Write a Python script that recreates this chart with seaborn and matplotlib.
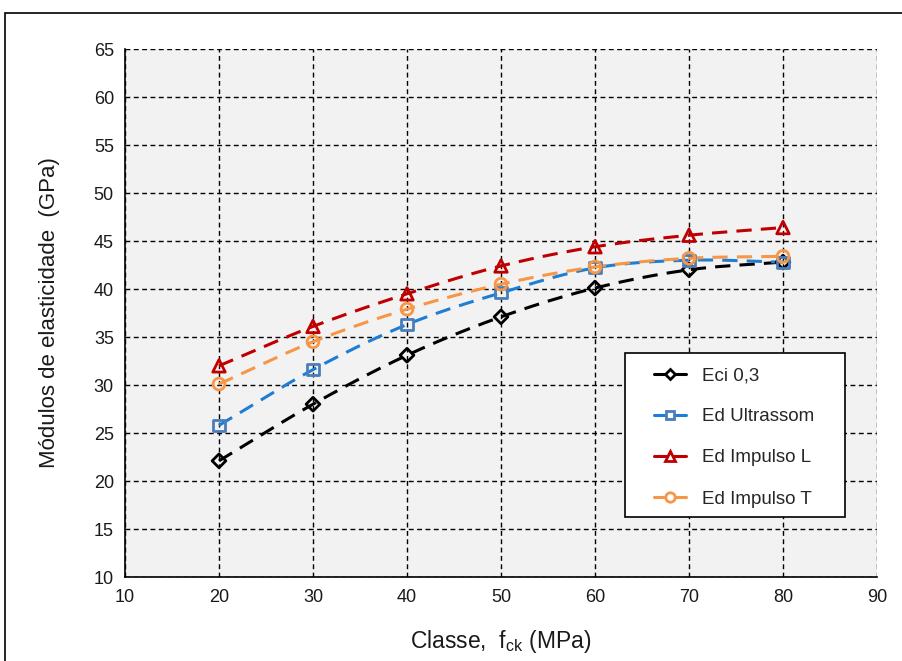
import numpy as np
import pandas as pd
import matplotlib
matplotlib.use("Agg")
import matplotlib.pyplot as plt
import seaborn as sns
from matplotlib.patches import Rectangle
from matplotlib.lines import Line2D

# Concrete class (fck, MPa)
classes = [20, 30, 40, 50, 60, 70, 80]

# Elastic moduli (GPa)
eci_03 = [22.1, 28.0, 33.1, 37.1, 40.1, 42.0, 42.8]
ed_ultrassom = [25.8, 31.6, 36.3, 39.6, 42.2, 43.0, 42.8]
ed_impulso_l = [32.0, 36.1, 39.5, 42.4, 44.4, 45.6, 46.4]
ed_impulso_t = [30.1, 34.5, 37.9, 40.5, 42.3, 43.2, 43.4]

series_names = ["Eci 0,3", "Ed Ultrassom", "Ed Impulso L", "Ed Impulso T"]
series_values = [eci_03, ed_ultrassom, ed_impulso_l, ed_impulso_t]

x_ticks = [10, 20, 30, 40, 50, 60, 70, 80, 90]
y_ticks = [10, 15, 20, 25, 30, 35, 40, 45, 50, 55, 60, 65]

styles = {
    "Eci 0,3": dict(line="#000000", edge="#000000", marker="D", ms=7),
    "Ed Ultrassom": dict(line="#1F7ED3", edge="#4A7EBB", marker="s", ms=8),
    "Ed Impulso L": dict(line="#C00000", edge="#C00000", marker="^", ms=9),
    "Ed Impulso T": dict(line="#F79646", edge="#F79646", marker="o", ms=8.5),
}


def smooth_curve(xs, ys, n=24):
    """Catmull-Rom style smoothing between consecutive points."""
    xs = np.asarray(xs, float)
    ys = np.asarray(ys, float)
    px = np.concatenate([[2 * xs[0] - xs[1]], xs, [2 * xs[-1] - xs[-2]]])
    py = np.concatenate([[2 * ys[0] - ys[1]], ys, [2 * ys[-1] - ys[-2]]])
    out_x, out_y = [], []
    t = np.linspace(0, 1, n, endpoint=False)
    for i in range(1, len(px) - 2):
        for arr, res in ((px, out_x), (py, out_y)):
            p0, p1, p2, p3 = arr[i - 1], arr[i], arr[i + 1], arr[i + 2]
            res.extend(0.5 * ((2 * p1) + (-p0 + p2) * t
                              + (2 * p0 - 5 * p1 + 4 * p2 - p3) * t ** 2
                              + (-p0 + 3 * p1 - 3 * p2 + p3) * t ** 3))
    out_x.append(xs[-1])
    out_y.append(ys[-1])
    return np.array(out_x), np.array(out_y)


sns.set_theme(style="white")
plt.rcParams["font.family"] = ["Liberation Sans", "DejaVu Sans"]
plt.rcParams["mathtext.fontset"] = "custom"
plt.rcParams["mathtext.rm"] = "Liberation Sans"
plt.rcParams["mathtext.it"] = "Liberation Sans"

W, H = 902, 661
fig = plt.figure(figsize=(W / 100, H / 100), dpi=100)
fig.patch.set_facecolor("white")
ax_l, ax_r, ax_t, ax_b = 125, 877, 49, 577
ax = fig.add_axes([ax_l / W, 1 - ax_b / H, (ax_r - ax_l) / W, (ax_b - ax_t) / H])
ax.set_facecolor("#F2F2F2")

# outer chart frame
fig.patches.append(Rectangle((5 / W, -0.01), 1.0, 1 - 13 / H + 0.01,
                             transform=fig.transFigure, fill=False,
                             edgecolor="#000000", linewidth=1.2, zorder=0))

for name, vals in zip(series_names, series_values):
    st = styles[name]
    sx, sy = smooth_curve(classes, vals)
    sns.lineplot(x=sx, y=sy, ax=ax, color=st["line"], linewidth=2.2,
                 linestyle=(0, (5, 3)), sort=False, zorder=3)
    df = pd.DataFrame({"x": classes, "y": vals})
    sns.scatterplot(data=df, x="x", y="y", ax=ax, marker=st["marker"],
                    s=st["ms"] ** 2, facecolor="none",
                    edgecolor=st["edge"], linewidth=2, zorder=4)

ax.set_xlim(10, 90)
ax.set_ylim(10, 65)
ax.set_xticks(x_ticks)
ax.set_yticks(y_ticks)
ax.tick_params(axis="both", direction="inout", length=8, width=1,
               labelsize=13, color="black", labelcolor="#1a1a1a")
ax.tick_params(axis="y", pad=4)
ax.tick_params(axis="x", pad=5)
ax.grid(True, color="black", linestyle=(0, (3.5, 2.5)), linewidth=1)
ax.set_axisbelow(True)
for side in ("top", "right"):
    ax.spines[side].set_visible(False)
for side in ("left", "bottom"):
    ax.spines[side].set_color("black")
    ax.spines[side].set_linewidth(1.2)

ax.set_xlabel("Classe,  f$_{\\rm ck}$ (MPa)", fontsize=16.5, color="#1a1a1a")
ax.set_ylabel("Módulos de elasticidade  (GPa)", fontsize=16, color="#1a1a1a")
pw, ph = ax_r - ax_l, ax_b - ax_t
ax.xaxis.set_label_coords(0.5, -(628 - ax_b) / ph)
ax.yaxis.set_label_coords(-(ax_l - 60) / pw, 0.5)

# legend box
lb_l, lb_r, lb_t, lb_b = 625, 845, 353, 517
ax.add_patch(Rectangle(((lb_l - ax_l) / pw, (ax_b - lb_b) / ph),
                       (lb_r - lb_l) / pw, (lb_b - lb_t) / ph,
                       transform=ax.transAxes, facecolor="white",
                       edgecolor="black", linewidth=1.2, zorder=5))

handles = []
for name in series_names:
    st = styles[name]
    handles.append(Line2D([0], [0], color=st["line"], linewidth=2.2,
                          linestyle="-", marker=st["marker"],
                          markersize=st["ms"] * 0.8, markerfacecolor="white",
                          markeredgecolor=st["edge"], markeredgewidth=2))
leg = ax.legend(handles, series_names, loc="upper left",
                bbox_to_anchor=((654 - ax_l) / pw, (ax_b - 367) / ph),
                frameon=False, fontsize=13.5, handlelength=1.7,
                labelspacing=1.28, borderpad=0, handletextpad=0.85,
                borderaxespad=0)
leg.set_zorder(6)

fig.savefig("out.png", dpi=100)
